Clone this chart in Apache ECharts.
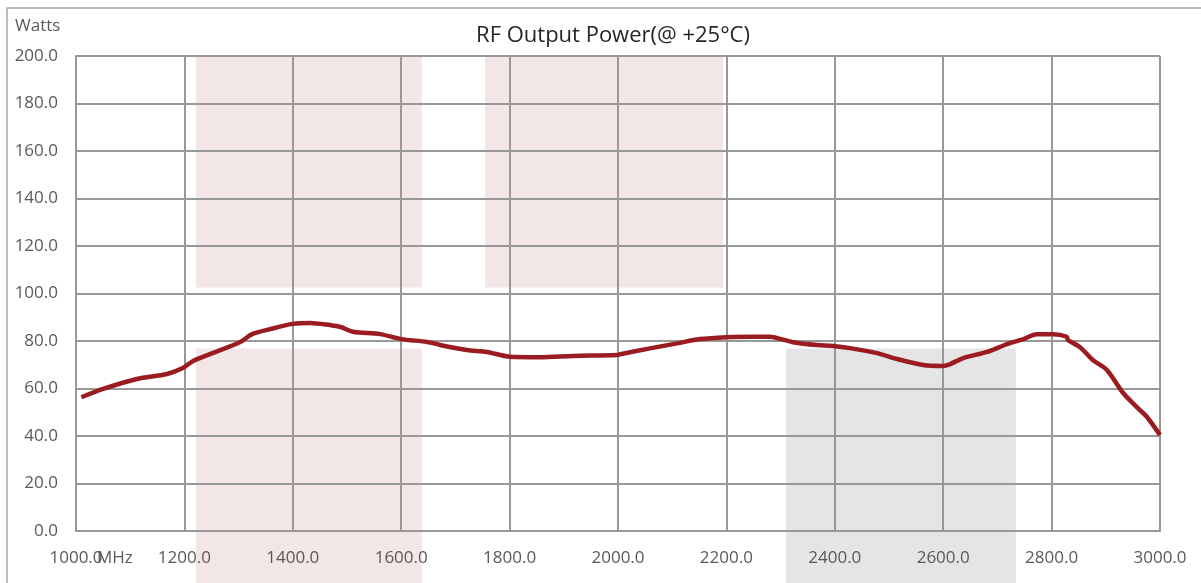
<!DOCTYPE html>
<html>
<head>
<meta charset="utf-8">
<script src="https://cdn.jsdelivr.net/npm/echarts@6/dist/echarts.min.js"></script>
<style>
html,body{margin:0;padding:0;background:#fff;}
#chart{width:1201px;height:583px;}
</style>
</head>
<body>
<div id="chart"></div>
<script>
// Frequency (MHz) and RF output power (Watts)
const freq = [1010, 1050, 1112, 1168, 1197, 1216, 1253, 1303, 1325, 1358, 1400, 1432, 1469, 1487, 1511, 1561, 1600, 1648, 1672, 1721, 1758, 1800, 1856, 1917, 1998, 2004, 2059, 2109, 2151, 2200, 2244, 2280, 2299, 2323, 2367, 2397, 2428, 2478, 2515, 2563, 2600, 2613, 2637, 2681, 2718, 2747, 2773, 2803, 2828, 2830, 2852, 2876, 2902, 2932, 2963, 2976, 3000];
const power = [56.3, 59.8, 64.0, 66.1, 68.6, 71.6, 75.0, 79.6, 82.9, 85.0, 87.2, 87.6, 86.7, 86.0, 83.9, 82.9, 80.8, 79.6, 78.3, 76.2, 75.4, 73.4, 73.2, 73.7, 74.1, 74.4, 76.9, 79.0, 80.8, 81.6, 81.8, 81.8, 80.9, 79.5, 78.3, 77.9, 77.0, 74.9, 72.4, 69.9, 69.5, 70.3, 72.8, 75.4, 78.7, 80.7, 82.8, 82.8, 81.8, 80.4, 77.5, 72.0, 67.8, 58.1, 50.9, 48.0, 40.4];

// Axis ticks
const xTicks = [1000, 1200, 1400, 1600, 1800, 2000, 2200, 2400, 2600, 2800, 3000];
const yTicks = [0, 20, 40, 60, 80, 100, 120, 140, 160, 180, 200];

// Background shaded bands (data coordinates)
const bandX0 = [1221, 1221, 1755, 2310];
const bandX1 = [1638, 1638, 2194, 2734];
const bandY0 = [102.5, -22, 102.5, -22];
const bandY1 = [200, 76.8, 200, 76.8];
const bandColor = ['#F2E6E7', '#F2E6E7', '#F2E6E7', '#E5E5E5'];

const titleText = 'RF Output Power(@ +25°C)';
const yUnit = 'Watts';
const xUnit = 'MHz';

const FONT = 'Open Sans';
const chart = echarts.init(document.getElementById('chart'), null, {renderer: 'canvas'});

const option = {
  backgroundColor: '#fff',
  animation: false,
  textStyle: {fontFamily: FONT},
  title: {
    text: titleText,
    left: 608,
    top: 20,
    textAlign: 'center',
    textStyle: {fontFamily: FONT, fontSize: 22, fontWeight: 'normal', color: '#262626'}
  },
  grid: {left: 76, right: 41, top: 56, bottom: 52, containLabel: false, outerBoundsMode: 'none'},
  xAxis: {
    type: 'value',
    min: xTicks[0],
    max: xTicks[xTicks.length - 1],
    interval: xTicks[1] - xTicks[0],
    axisLine: {show: true, lineStyle: {color: '#989898', width: 2}},
    axisTick: {show: false},
    splitLine: {show: true, lineStyle: {color: '#989898', width: 2}},
    axisLabel: {
      color: '#595959', fontSize: 17, fontFamily: FONT, margin: 19,
      formatter: v => v.toFixed(1)
    }
  },
  yAxis: {
    type: 'value',
    min: yTicks[0],
    max: yTicks[yTicks.length - 1],
    interval: yTicks[1] - yTicks[0],
    axisLine: {show: true, lineStyle: {color: '#989898', width: 2}},
    axisTick: {show: false},
    splitLine: {show: true, lineStyle: {color: '#989898', width: 2}},
    axisLabel: {
      color: '#595959', fontSize: 17, fontFamily: FONT, margin: 18,
      formatter: v => v.toFixed(1)
    }
  },
  series: [{
    type: 'line',
    data: freq.map((f, i) => [f, power[i]]),
    showSymbol: false,
    smooth: 0.3,
    lineStyle: {color: '#9B1C20', width: 4.5},
    itemStyle: {color: '#9B1C20'},
    z: 5
  }]
};
chart.setOption(option);

const graphics = [];
for (let i = 0; i < bandX0.length; i++) {
  const p0 = chart.convertToPixel({gridIndex: 0}, [bandX0[i], bandY1[i]]);
  const p1 = chart.convertToPixel({gridIndex: 0}, [bandX1[i], bandY0[i]]);
  graphics.push({
    type: 'rect', z: -10, silent: true,
    shape: {x: p0[0], y: p0[1], width: p1[0] - p0[0], height: p1[1] - p0[1]},
    style: {fill: bandColor[i]}
  });
}
// outer chart frame
graphics.push({
  type: 'rect', z: -20, silent: true,
  shape: {x: 7, y: 8, width: 1210, height: 600},
  style: {fill: 'none', stroke: '#A6A6A6', lineWidth: 1.5}
});
graphics.push({
  type: 'text', z: 10, silent: true,
  x: 15, y: 26,
  style: {text: yUnit, fontFamily: FONT, fontSize: 17, fill: '#595959', verticalAlign: 'middle', align: 'left'}
});
const px0 = chart.convertToPixel({gridIndex: 0}, [xTicks[0], yTicks[0]]);
graphics.push({
  type: 'text', z: 10, silent: true,
  x: px0[0] + 21, y: px0[1] + 27.5,
  style: {text: xUnit, fontFamily: FONT, fontSize: 17, fill: '#595959', verticalAlign: 'middle', align: 'left'}
});
chart.setOption({graphic: graphics});
</script>
</body>
</html>
